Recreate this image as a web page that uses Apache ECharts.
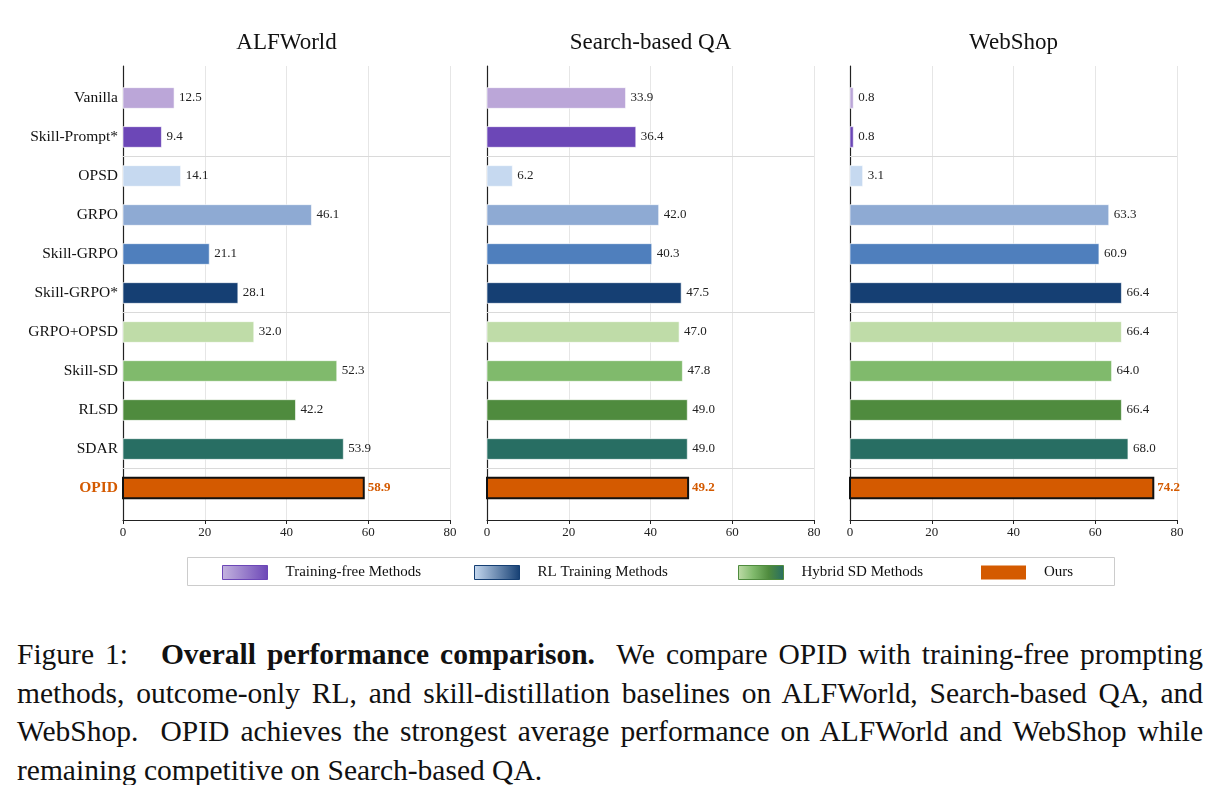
<!DOCTYPE html>
<html>
<head>
<meta charset="utf-8">
<script src="https://cdn.jsdelivr.net/npm/echarts@6/dist/echarts.min.js"></script>
<style>
  body { margin: 0; background: #fff; }
  #chart { position: absolute; left: 0; top: 0; width: 1219px; height: 600px; }
  #caption {
    position: absolute; left: 17px; top: 635px; width: 1186px;
    font-family: "Liberation Serif", "Times New Roman", serif;
    font-size: 29.5px; line-height: 38.5px; color: #111;
    text-align: justify;
  }
</style>
</head>
<body>
<div id="chart"></div>
<div id="caption">Figure 1:&nbsp;&nbsp; <b>Overall performance comparison.</b>&nbsp; We compare OPID with training-free prompting methods, outcome-only RL, and skill-distillation baselines on ALFWorld, Search-based QA, and WebShop.&nbsp; OPID achieves the strongest average performance on ALFWorld and WebShop while remaining competitive on Search-based QA.</div>
<script>
const methods = ["Vanilla", "Skill-Prompt*", "OPSD", "GRPO", "Skill-GRPO", "Skill-GRPO*",
  "GRPO+OPSD", "Skill-SD", "RLSD", "SDAR", "OPID"];
const benchmarks = ["ALFWorld", "Search-based QA", "WebShop"];
const alfworld = [12.5, 9.4, 14.1, 46.1, 21.1, 28.1, 32.0, 52.3, 42.2, 53.9, 58.9];
const searchQA = [33.9, 36.4, 6.2, 42.0, 40.3, 47.5, 47.0, 47.8, 49.0, 49.0, 49.2];
const webshop = [0.8, 0.8, 3.1, 63.3, 60.9, 66.4, 66.4, 64.0, 66.4, 68.0, 74.2];
const xTicks = [0, 20, 40, 60, 80];
// group boundaries (between Skill-Prompt*/OPSD, Skill-GRPO*/GRPO+OPSD, SDAR/OPID)
const groupBreaks = [1.5, 5.5, 9.5];
const groups = ["Training-free Methods", "RL Training Methods", "Hybrid SD Methods", "Ours"];

const panelValues = [alfworld, searchQA, webshop];

const barColors = ["#bba6d8", "#6c47b7", "#c6d9f0", "#8eaad3", "#4f7fbd", "#153f73",
  "#bfdca8", "#80ba6c", "#4f8b3e", "#286e63", "#d45a00"];
const OURS = "#d45a00";
const SERIF = "'Liberation Serif', 'Times New Roman', serif";

const chart = echarts.init(document.getElementById("chart"), null, { renderer: "canvas" });

const gridLeft = [123, 487, 850];
const gridWidth = 327;
const gridTop = 66;
const gridHeight = 454;

const lg = (stops) => new echarts.graphic.LinearGradient(0, 0, 1, 0,
  stops.map((c, i) => ({ offset: i / (stops.length - 1), color: c })));

const legendStyles = [
  { color: lg(["#c4b4df", "#6c47b7"]), borderColor: "#6c47b7", borderWidth: 1 },
  { color: lg(["#c6d9f0", "#153f73"]), borderColor: "#153f73", borderWidth: 1 },
  { color: lg(["#bfdca8", "#80ba6c", "#4f8b3e", "#286e63"]), borderColor: "#4f8b3e", borderWidth: 1 },
  { color: OURS, borderWidth: 0 },
];
const legendLeft = [222, 474, 738, 981];

function renderBar(params, api) {
  const idx = api.value(1);
  const v = api.value(0);
  const start = api.coord([0, idx]);
  const end = api.coord([v, idx]);
  const h = api.size([0, 1])[1] * 0.53;
  const ours = idx === methods.length - 1;
  return {
    type: "group",
    children: [
      {
        type: "rect",
        shape: { x: start[0], y: start[1] - h / 2, width: end[0] - start[0], height: h },
        style: {
          fill: barColors[idx],
          stroke: ours ? "#111" : "rgba(255,255,255,0.6)",
          lineWidth: ours ? 2 : 1,
        },
      },
      {
        type: "text",
        x: end[0] + (ours ? 4 : 5),
        y: end[1],
        style: {
          text: v.toFixed(1),
          fill: ours ? OURS : "#222",
          font: (ours ? "bold " : "") + "13px " + SERIF,
          align: "left",
          verticalAlign: "middle",
        },
      },
    ],
  };
}

const grids = [], xAxes = [], yAxes = [], series = [], texts = [];

benchmarks.forEach((name, i) => {
  grids.push({ left: gridLeft[i], top: gridTop, width: gridWidth, height: gridHeight });

  xAxes.push({
    type: "value",
    gridIndex: i,
    min: xTicks[0],
    max: xTicks[xTicks.length - 1],
    interval: xTicks[1] - xTicks[0],
    axisLine: { show: true, onZero: false, lineStyle: { color: "#222", width: 1.2 } },
    axisTick: { show: true, length: 4, lineStyle: { color: "#222" } },
    axisLabel: { color: "#222", fontFamily: SERIF, fontSize: 13, margin: 6 },
    splitLine: { show: true, lineStyle: { color: "#e6e6e6", width: 1 } },
  });

  yAxes.push({
    type: "value",
    gridIndex: i,
    inverse: true,
    min: -0.82,
    max: methods.length - 1 + 0.82,
    axisLine: { show: true, onZero: false, lineStyle: { color: "#222", width: 1.2 } },
    axisTick: { show: false },
    splitLine: { show: false },
    axisLabel: {
      show: i === 0,
      customValues: methods.map((_, k) => k),
      margin: 5,
      color: "#111",
      fontFamily: SERIF,
      fontSize: 15.5,
      formatter: (v) => {
        const m = methods[Math.round(v)];
        return m === "OPID" ? "{ours|" + m + "}" : m;
      },
      rich: {
        ours: { color: OURS, fontWeight: "bold", fontFamily: SERIF, fontSize: 15.5 },
      },
    },
  });

  series.push({
    name: name,
    type: "custom",
    xAxisIndex: i,
    yAxisIndex: i,
    renderItem: renderBar,
    encode: { x: 0, y: 1 },
    data: panelValues[i].map((v, k) => [v, k]),
    silent: true,
    markLine: {
      silent: true,
      symbol: ["none", "none"],
      label: { show: false },
      lineStyle: { color: "#dadada", type: "solid", width: 1 },
      data: groupBreaks.map((b) => ({ yAxis: b })),
    },
  });

  texts.push({
    type: "text",
    x: gridLeft[i] + gridWidth / 2,
    y: 43,
    style: {
      text: name,
      fill: "#111",
      font: "23px " + SERIF,
      align: "center",
      verticalAlign: "middle",
    },
  });
});

// legend-only series
groups.forEach((g, k) => {
  series.push({
    name: g,
    type: "custom",
    xAxisIndex: 0,
    yAxisIndex: 0,
    renderItem: () => null,
    itemStyle: legendStyles[k],
    data: [],
  });
});

const legends = groups.map((g, k) => ({
  left: legendLeft[k],
  top: 565,
  padding: 0,
  icon: "rect",
  itemWidth: 45,
  itemHeight: 14,
  selectedMode: false,
  textStyle: { fontFamily: SERIF, fontSize: 15, color: "#111", padding: [0, 0, 0, 13] },
  data: [{ name: g, itemStyle: legendStyles[k] }],
}));

const option = {
  backgroundColor: "#fff",
  animation: false,
  grid: grids,
  xAxis: xAxes,
  yAxis: yAxes,
  legend: legends,
  graphic: texts.concat([
    {
      type: "rect",
      shape: { x: 187.5, y: 557.5, width: 927, height: 28 },
      style: { fill: "none", stroke: "#cccccc", lineWidth: 1 },
    },
  ]),
  series: series,
};

chart.setOption(option);
</script>
</body>
</html>
